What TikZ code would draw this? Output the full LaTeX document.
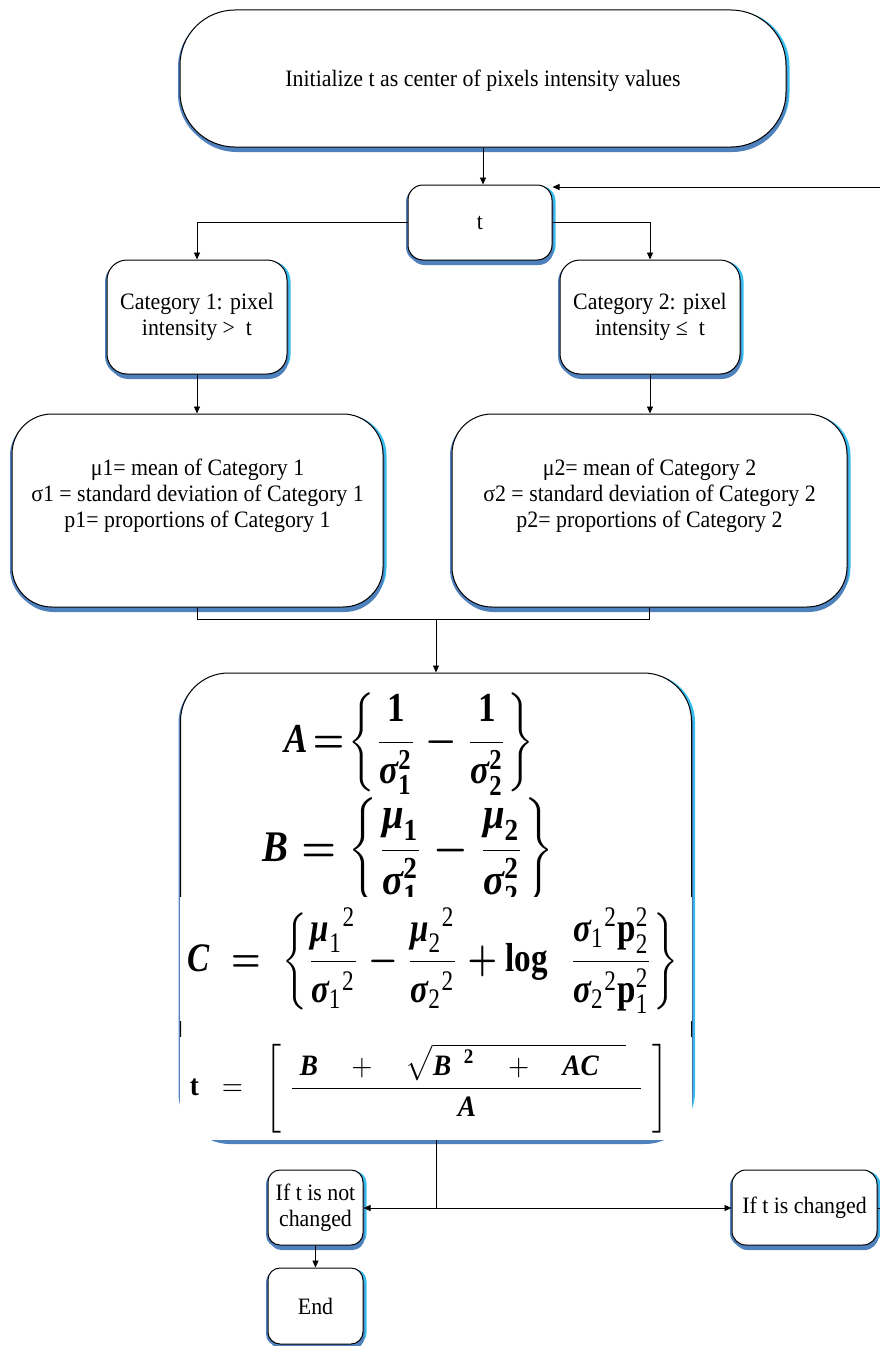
\documentclass[tikz,border=0pt]{standalone}
\usepackage{fontspec}
\usepackage{amsmath}
\usepackage{graphicx}
\setmainfont{Liberation Serif}[FakeStretch=0.93]
\newfontfamily\fser{Liberation Serif}
\usetikzlibrary{arrows.meta,shadows,calc}

\definecolor{shblue}{RGB}{79,129,189}
\definecolor{shcyan}{RGB}{56,189,240}

\newcommand\boxfont{\fontsize{23.5}{26}\selectfont}
% bold italic variable and bold upright symbol for the formulas
\newcommand\bvar[1]{\text{\fser\bfseries\itshape #1}}
\newcommand\bup[1]{\text{\fser\bfseries #1}}
\newcommand\rup[1]{\text{\fser #1}}

\tikzset{
  box/.style={draw=black, line width=1pt, fill=white, align=center,
    inner sep=2pt, font=\boxfont,
    general shadow={fill=shcyan, shadow xshift=3.5pt, shadow yshift=-1pt},
    general shadow={fill=shblue, shadow xshift=1.5pt, shadow yshift=-5pt},
    general shadow={fill=shblue, shadow xshift=-2pt, shadow yshift=-2pt}},
  boxtext/.style={font=\boxfont, align=center, inner sep=0pt},
  formula/.style={inner sep=0pt},
  conn/.style={line width=0.9pt},
  arr/.style={conn, -{Triangle[length=7pt,width=6pt]}},
}

\begin{document}
\begin{tikzpicture}[x=1pt,y=-1pt]
\useasboundingbox (0,0) rectangle (880,1346);

% boxes
\node[box, minimum width=606pt, minimum height=137pt, rounded corners=55pt]
  (init) at (483,78.5) {};
\node[boxtext] (initt) at (483,81) {Initialize t as center of pixels intensity values};
\node[box, minimum width=144pt, minimum height=75pt, rounded corners=15pt]
  (t) at (480,222.5) {t};
\node[box, minimum width=180pt, minimum height=114pt, rounded corners=20pt]
  (c1) at (197,317) {Category 1: pixel\\ intensity >\ \ t};
\node[box, minimum width=180pt, minimum height=114pt, rounded corners=20pt]
  (c2) at (650,317) {Category 2: pixel\\ intensity ≤\ \ t};
\node[box, minimum width=371pt, minimum height=193pt, rounded corners=40pt]
  (m1) at (197.5,510.5) {};
\node[boxtext] (m1t) at (197.5,496)
  {μ1= mean of Category 1\\ σ1 = standard deviation of Category 1\\ p1= proportions of Category 1};
\node[box, minimum width=395pt, minimum height=193pt, rounded corners=40pt]
  (m2) at (649.5,510.5) {};
\node[boxtext] (m2t) at (649.5,496)
  {μ2= mean of Category 2\\ σ2 = standard deviation of Category 2\\ p2= proportions of Category 2};

% formula box
\node[box, minimum width=511pt, minimum height=466pt, rounded corners=48pt]
  (F) at (436,906) {};
\node[formula] (fa) at (409.5,744) {\resizebox*{249pt}{102pt}{\boldmath$\displaystyle
  \bvar{A}\!=\!\left\{\frac{\bup{1}}{\bvar{σ}_{\bup{1}}^{\bup{2}}}-\frac{\bup{1}}{\bvar{σ}_{\bup{2}}^{\bup{2}}}\right\}$}};
\node[formula] (fb) at (408.5,852) {\resizebox*{291pt}{108pt}{\boldmath$\displaystyle
  \bvar{B}=\left\{\frac{\bvar{μ}_{\bup{1}}}{\bvar{σ}_{\bup{1}}^{\bup{2}}}-\frac{\bvar{μ}_{\bup{2}}}{\bvar{σ}_{\bup{2}}^{\bup{2}}}\right\}$}};
% white grounds of the two lower formula lines
\fill[white] (179.8,897) rectangle (692.2,1021);
\fill[white] (179.8,1037) rectangle (692.2,1139.8);
\node[formula] (fc) at (433,960.5) {\resizebox*{490pt}{105pt}{\boldmath$\displaystyle
  \bvar{C}\;=\;\left\{\frac{{\bvar{μ}_{\rup{1}}}^{\rup{2}}}{{\bvar{σ}_{\rup{1}}}^{\rup{2}}}-\frac{{\bvar{μ}_{\rup{2}}}^{\rup{2}}}{{\bvar{σ}_{\rup{2}}}^{\rup{2}}}+\bup{log}\;\;
  \frac{{\bvar{σ}_{\rup{1}}}^{\rup{2}}\bup{p}_{\rup{2}}^{\rup{2}}}{{\bvar{σ}_{\rup{2}}}^{\rup{2}}\bup{p}_{\rup{1}}^{\rup{2}}}\right\}$}};
\node[formula] (ft) at (429,1088.5) {\resizebox*{478pt}{89pt}{$\displaystyle
  \bup{t}\;\;=\;\;\left[\vphantom{\frac{\sqrt{B^2}}{A_p}}\;\frac{\;\bvar{B}\quad+\quad\sqrt{\bvar{B}^{\;\;\bup{2}}\quad+\quad\bvar{AC}\quad}\;\;}{\bvar{A}}\;\right]$}};

\node[box, minimum width=95pt, minimum height=75pt, rounded corners=12pt]
  (nc) at (315.5,1207.5) {If t is not\\ changed};
\node[box, minimum width=95pt, minimum height=76pt, rounded corners=12pt]
  (end) at (315.5,1306) {End};
\node[box, minimum width=145pt, minimum height=75pt, rounded corners=14pt]
  (ch) at (804.5,1207.5) {If t is changed};

% connectors
\coordinate (loopin) at (880,187);
\coordinate (loopout) at (880,1208);
\coordinate (j1) at (436,619);
\coordinate (j2) at (436,1208);

\draw[arr] (init.south) -- (init.south |- t.north);
\draw[arr] (loopin) -- (loopin -| t.east);
\draw[arr] (t.west) -| (c1.north);
\draw[arr] (t.east) -| (c2.north);
\draw[arr] (c1.south) -- (c1.south |- m1.north);
\draw[arr] (c2.south) -- (c2.south |- m2.north);
\draw[conn] (m1.south) |- (j1);
\draw[conn] (m2.south) |- (j1);
\draw[arr] (j1) -- (F.north);
\draw[conn] (F.south) -- (j2);
\draw[arr] (j2) -- (nc.east |- j2);
\draw[arr] (j2) -- (ch.west |- j2);
\draw[arr] (nc.south) -- (end.north);
\draw[conn] (ch.east |- loopout) -- (loopout);
\end{tikzpicture}
\end{document}
